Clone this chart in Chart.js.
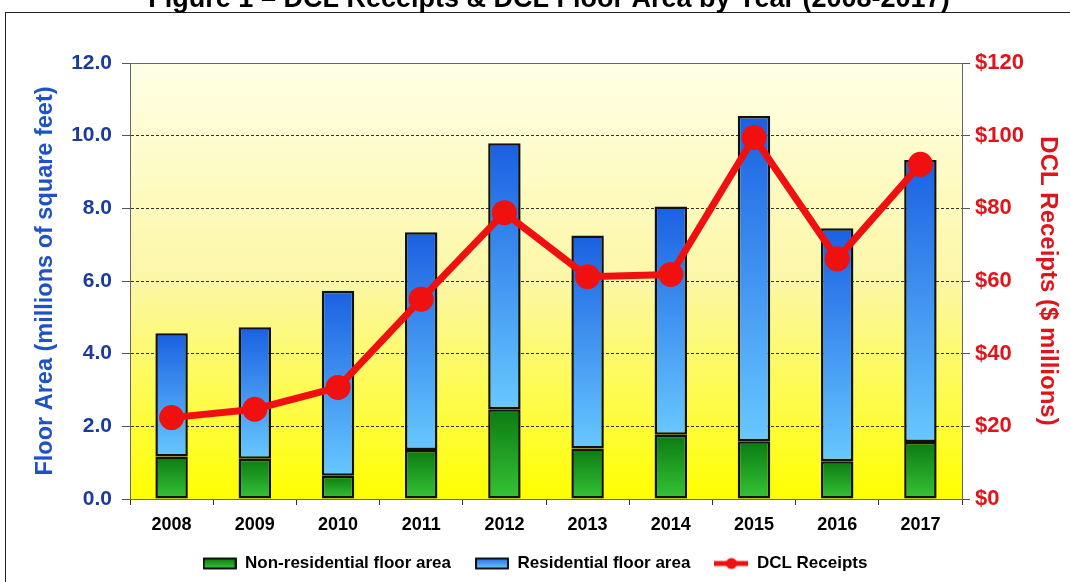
<!DOCTYPE html>
<html>
<head>
<meta charset="utf-8">
<script src="https://cdn.jsdelivr.net/npm/chart.js@4.4.1/dist/chart.umd.min.js"></script>
<style>
  html, body { margin: 0; padding: 0; background: #fff; }
  #wrap { position: relative; width: 1070px; height: 582px; }
</style>
</head>
<body>
<div id="wrap"><canvas id="dclChart"></canvas></div>
<script>
const years = ["2008", "2009", "2010", "2011", "2012", "2013", "2014", "2015", "2016", "2017"];
const nonResidential = [1.17, 1.11, 0.64, 1.35, 2.47, 1.39, 1.77, 1.59, 1.04, 1.57];
const residential = [3.39, 3.62, 5.09, 5.99, 7.32, 5.86, 6.28, 8.95, 6.41, 7.76];
const dclReceipts = [22.4, 24.7, 30.7, 55.0, 78.8, 61.2, 61.8, 99.5, 66.1, 92.1];

const FONT = "'Liberation Sans', Arial, sans-serif";
const TITLE = "Figure 1 \u2013 DCL Receipts & DCL Floor Area by Year (2008-2017)";

// vertical gradient for one bar segment, from base value to top value
function segmentFill(c, base, top, dark, light) {
  const chart = c.chart;
  if (!chart.chartArea || c.type !== "data") return dark;
  const ys = chart.scales.y;
  const y0 = ys.getPixelForValue(base);
  const y1 = ys.getPixelForValue(top);
  const g = chart.ctx.createLinearGradient(0, y1, 0, y0);
  g.addColorStop(0, dark);
  g.addColorStop(1, light);
  return g;
}

function legendIcon(kind) {
  const cv = document.createElement("canvas");
  cv.width = 34; cv.height = 14;
  const x = cv.getContext("2d");
  if (kind === "line") {
    x.strokeStyle = "#f01010"; x.lineWidth = 5;
    x.beginPath(); x.moveTo(0, 7); x.lineTo(34, 7); x.stroke();
    x.fillStyle = "#f01010";
    x.beginPath(); x.arc(17, 7, 5.5, 0, Math.PI * 2); x.fill();
  } else {
    const g = x.createLinearGradient(0, 2, 0, 12);
    if (kind === "green") { g.addColorStop(0, "#0c7a12"); g.addColorStop(1, "#36c436"); }
    else { g.addColorStop(0, "#2a6fe6"); g.addColorStop(1, "#6cc8ff"); }
    x.fillStyle = g; x.fillRect(1, 2, 32, 10);
    x.strokeStyle = "#000"; x.lineWidth = 1.8; x.strokeRect(1, 2, 32, 10);
  }
  return cv;
}
const icons = [legendIcon("green"), legendIcon("blue"), legendIcon("line")];

const decor = {
  id: "decor",
  beforeDraw(chart) {
    const ctx = chart.ctx, a = chart.chartArea;
    ctx.save();
    ctx.fillStyle = "#fff";
    ctx.fillRect(0, 0, chart.width, chart.height);
    ctx.strokeStyle = "#222"; ctx.lineWidth = 1;
    ctx.strokeRect(5.5, 12.5, 1200, 700);
    ctx.fillStyle = "#000";
    ctx.font = "bold 27px " + FONT;
    ctx.textAlign = "center"; ctx.textBaseline = "alphabetic";
    ctx.fillText(TITLE, 549, 7);
    const g = ctx.createLinearGradient(0, a.top, 0, a.bottom);
    g.addColorStop(0, "#ffffe6");
    g.addColorStop(0.5, "#fcf7a6");
    g.addColorStop(1, "#ffff00");
    ctx.fillStyle = g;
    ctx.fillRect(a.left, a.top, a.right - a.left, a.bottom - a.top);
    ctx.restore();
  },
  beforeDatasetsDraw(chart) {
    const ctx = chart.ctx, a = chart.chartArea;
    ctx.save();
    ctx.strokeStyle = "#666"; ctx.lineWidth = 1;
    ctx.strokeRect(a.left + 0.5, a.top + 0.5, a.right - a.left, a.bottom - a.top);
    ctx.restore();
  }
};

new Chart(document.getElementById("dclChart"), {
  data: {
    labels: years,
    datasets: [
      {
        type: "line",
        label: "DCL Receipts",
        data: dclReceipts,
        yAxisID: "y1",
        order: 0,
        borderColor: "#f01010",
        backgroundColor: "#f01010",
        borderWidth: 7,
        pointRadius: 9,
        pointBackgroundColor: "#f01010",
        pointBorderColor: "#f01010",
        tension: 0,
      },
      {
        type: "bar",
        label: "Non-residential floor area",
        data: nonResidential,
        yAxisID: "y",
        order: 1,
        backgroundColor: (c) => segmentFill(c, 0, nonResidential[c.dataIndex], "#0c7a12", "#36c436"),
        borderColor: "#111",
        borderWidth: 2.5,
        borderSkipped: false,
        categoryPercentage: 1,
        barPercentage: 0.39,
      },
      {
        type: "bar",
        label: "Residential floor area",
        data: residential,
        yAxisID: "y",
        order: 1,
        backgroundColor: (c) => segmentFill(c, nonResidential[c.dataIndex],
          nonResidential[c.dataIndex] + residential[c.dataIndex], "#1a60e2", "#68c8ff"),
        borderColor: "#111",
        borderWidth: 2.5,
        borderSkipped: false,
        categoryPercentage: 1,
        barPercentage: 0.39,
      },
    ],
  },
  options: {
    responsive: true,
    maintainAspectRatio: false,
    animation: false,
    layout: { padding: { top: 63, left: 0, right: 0, bottom: 0 } },
    plugins: {
      tooltip: { enabled: false },
      title: { display: false },
      legend: {
        position: "bottom",
        labels: {
          usePointStyle: true,
          pointStyleWidth: 34,
          boxHeight: 14,
          padding: 24,
          color: "#000",
          font: { family: FONT, size: 17, weight: "bold" },
          generateLabels(chart) {
            const items = Chart.defaults.plugins.legend.labels.generateLabels(chart);
            items.forEach((it) => { it.pointStyle = icons[it.datasetIndex === 0 ? 2 : it.datasetIndex - 1]; });
            const rank = [2, 0, 1];
            return items.sort((p, q) => rank[p.datasetIndex] - rank[q.datasetIndex]);
          },
        },
      },
    },
    scales: {
      x: {
        stacked: true,
        afterFit(s) { s.height = 32; },
        grid: { display: true, drawOnChartArea: false, offset: true, tickLength: 6, color: "#333" },
        border: { display: true, color: "#444", width: 1 },
        ticks: { color: "#000", padding: 9, font: { family: FONT, size: 18, weight: "bold" } },
      },
      y: {
        position: "left",
        stacked: true,
        min: 0,
        max: 12,
        afterFit(s) { s.width = 130; },
        ticks: {
          stepSize: 2,
          padding: 10,
          color: "#1b3c9e",
          font: { family: FONT, size: 21, weight: "bold" },
          callback: (v) => Number(v).toFixed(1),
        },
        grid: { color: "#333", lineWidth: 1, tickLength: 8, tickColor: "#555", tickBorderDash: [] },
        border: { display: true, color: "#444", width: 1, dash: [3, 2] },
        title: {
          display: true,
          text: "Floor Area (millions of square feet)",
          color: "#1f52c4",
          padding: { top: 31, bottom: 0 },
          font: { family: FONT, size: 23.5, weight: "bold" },
        },
      },
      y1: {
        position: "right",
        min: 0,
        max: 120,
        afterFit(s) { s.width = 108; },
        ticks: {
          stepSize: 20,
          padding: 5,
          color: "#e0141b",
          font: { family: FONT, size: 22, weight: "bold" },
          callback: (v) => "$" + v,
        },
        grid: { drawOnChartArea: false, tickLength: 8, tickColor: "#555" },
        border: { display: true, color: "#444", width: 1 },
        title: {
          display: true,
          text: "DCL Receipts ($ millions)",
          color: "#e0141b",
          padding: { top: 8, bottom: 0 },
          font: { family: FONT, size: 24, weight: "bold" },
        },
      },
    },
  },
  plugins: [decor],
});
</script>
</body>
</html>
